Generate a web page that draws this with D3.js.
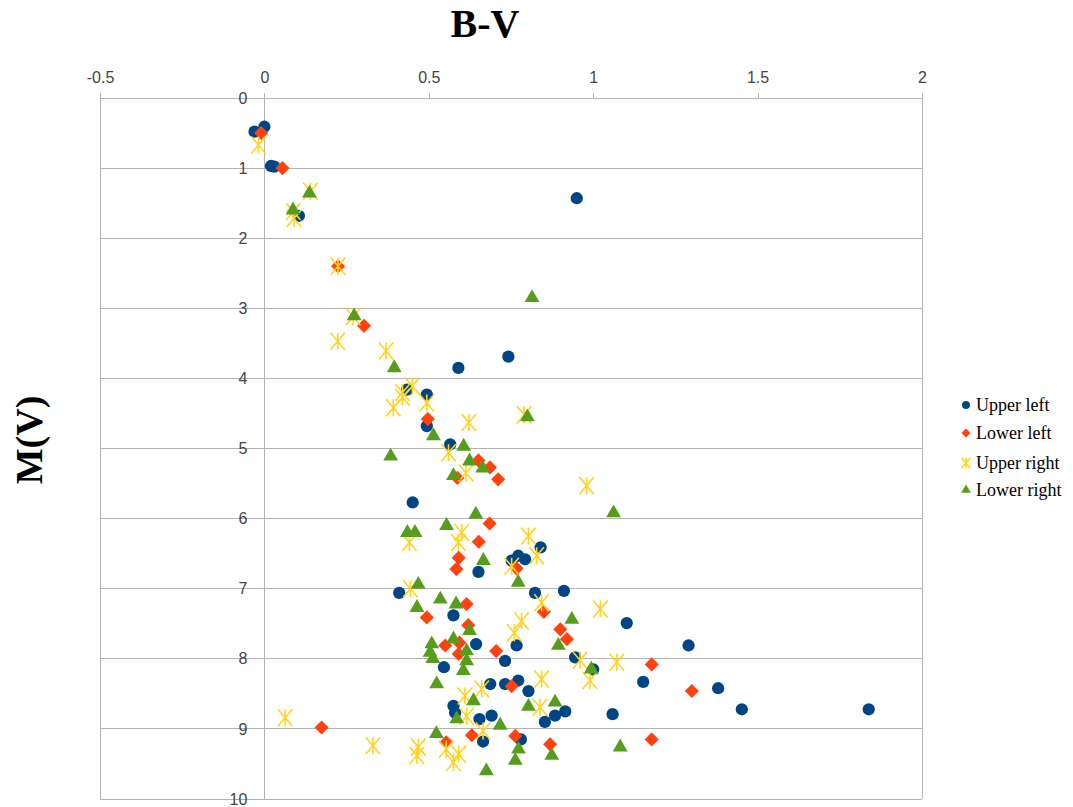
<!DOCTYPE html>
<meta charset="utf-8">
<style>
    body {
        margin: 0;
        background: #fff;
    }

    .axis path,
    .axis line {
        fill: none;
        stroke: #b3b3b3;
        shape-rendering: crispEdges;
    }

    .axis text {
        fill: #444;
        font: 16px "Liberation Sans", Arial, sans-serif;
    }

    .grid line {
        stroke: #b3b3b3;
        shape-rendering: crispEdges;
    }
</style>

<body>
    <script src="https://d3js.org/d3.v7.min.js"></script>
    <script>

        // [B-V, M(V)]
        var upperLeft = [
            [-0.03, 0.48], [0.0, 0.41], [0.02, 0.97], [0.03, 0.98], [0.105, 1.68], [0.95, 1.43],
            [0.59, 3.85], [0.742, 3.69], [0.434, 4.16], [0.494, 4.23], [0.494, 4.68], [0.565, 4.94],
            [0.451, 5.77], [0.84, 6.41], [0.752, 6.6], [0.772, 6.53], [0.793, 6.58], [0.651, 6.76],
            [0.41, 7.06], [0.823, 7.06], [0.911, 7.03], [0.575, 7.38], [1.102, 7.49], [0.767, 7.81],
            [0.644, 7.79], [1.29, 7.81], [0.945, 7.98], [0.546, 8.12], [0.732, 8.03], [1.0, 8.15],
            [0.687, 8.36], [0.732, 8.36], [0.772, 8.31], [0.803, 8.46], [1.152, 8.33], [1.38, 8.42],
            [0.575, 8.67], [0.58, 8.77], [0.654, 8.86], [0.691, 8.81], [0.853, 8.9], [0.884, 8.81],
            [0.915, 8.75], [1.059, 8.79], [1.452, 8.72], [1.838, 8.72], [0.665, 9.18], [0.78, 9.15]
        ];

        var lowerLeft = [
            [-0.01, 0.5], [0.055, 1.0], [0.224, 2.4], [0.303, 3.25], [0.497, 4.58], [0.651, 5.17],
            [0.686, 5.27], [0.587, 5.42], [0.711, 5.44], [0.685, 6.07], [0.652, 6.33], [0.591, 6.56],
            [0.584, 6.72], [0.767, 6.71], [0.494, 7.41], [0.615, 7.22], [0.85, 7.33], [0.9, 7.58],
            [0.92, 7.72], [0.62, 7.52], [0.55, 7.81], [0.593, 7.77], [0.591, 7.93], [0.705, 7.89],
            [1.178, 8.08], [0.752, 8.39], [1.3, 8.46], [0.174, 8.98], [0.631, 9.09], [0.763, 9.1],
            [0.869, 9.22], [0.553, 9.19], [1.178, 9.15]
        ];

        var upperRight = [
            [-0.018, 0.67], [0.14, 1.33], [0.088, 1.62], [0.09, 1.72], [0.224, 2.4], [0.27, 3.12],
            [0.223, 3.47], [0.37, 3.61], [0.42, 4.2], [0.45, 4.11], [0.494, 4.35], [0.392, 4.42],
            [0.42, 4.27], [0.622, 4.63], [0.79, 4.52], [0.56, 5.06], [0.613, 5.35], [0.98, 5.53],
            [0.441, 6.34], [0.6, 6.2], [0.59, 6.34], [0.803, 6.25], [0.828, 6.53], [0.752, 6.68],
            [0.444, 7.0], [0.843, 7.2], [1.022, 7.29], [0.782, 7.46], [0.76, 7.63], [0.96, 8.02],
            [1.072, 8.05], [0.99, 8.31], [0.843, 8.29], [0.661, 8.43], [0.61, 8.53], [0.838, 8.69],
            [0.615, 8.82], [0.063, 8.84], [0.665, 9.03], [0.33, 9.24], [0.468, 9.26], [0.464, 9.38],
            [0.553, 9.29], [0.591, 9.36], [0.575, 9.48]
        ];

        var lowerRight = [
            [0.137, 1.36], [0.087, 1.6], [0.814, 2.85], [0.273, 3.11], [0.395, 3.85], [0.8, 4.55],
            [0.514, 4.82], [0.384, 5.11], [0.606, 4.97], [0.624, 5.18], [0.664, 5.28], [0.575, 5.39],
            [1.062, 5.92], [0.643, 5.94], [0.554, 6.1], [0.435, 6.2], [0.458, 6.2], [0.666, 6.6],
            [0.772, 6.91], [0.468, 6.94], [0.535, 7.15], [0.464, 7.27], [0.583, 7.22], [0.935, 7.44],
            [0.624, 7.6], [0.575, 7.72], [0.509, 7.79], [0.504, 7.91], [0.512, 8.0], [0.615, 7.89],
            [0.894, 7.81], [0.615, 8.03], [0.605, 8.17], [0.994, 8.15], [0.524, 8.36], [0.636, 8.6],
            [0.803, 8.68], [0.884, 8.62], [0.585, 8.86], [0.717, 8.95], [0.523, 9.07], [0.773, 9.29],
            [0.763, 9.45], [0.874, 9.38], [0.675, 9.6], [1.082, 9.26]
        ];

        var seriesNames = ["Upper left", "Lower left", "Upper right", "Lower right"];
        var seriesColors = ["#004586", "#ff420e", "#ffd320", "#579d1c"];
        var xTicks = [-0.5, 0, 0.5, 1, 1.5, 2];
        var yTicks = [0, 1, 2, 3, 4, 5, 6, 7, 8, 9, 10];

        var width = 1073, height = 807;

        var x = d3.scaleLinear().domain([-0.5, 2]).range([100, 922]);
        var y = d3.scaleLinear().domain([0, 10]).range([98, 799]);

        var svg = d3.select("body").append("svg")
            .attr("width", width)
            .attr("height", height);

        // horizontal grid
        svg.append("g")
            .attr("class", "grid")
            .selectAll("line")
            .data(yTicks)
            .enter().append("line")
            .attr("x1", x(-0.5))
            .attr("x2", x(2))
            .attr("y1", d => y(d))
            .attr("y2", d => y(d));

        // frame sides
        svg.append("g")
            .attr("class", "grid")
            .selectAll("line")
            .data([-0.5, 2])
            .enter().append("line")
            .attr("x1", d => x(d))
            .attr("x2", d => x(d))
            .attr("y1", y(0))
            .attr("y2", y(10));

        var xAxis = d3.axisTop(x)
            .tickValues(xTicks)
            .tickSize(5)
            .tickPadding(10)
            .tickFormat(d => String(d));

        svg.append("g")
            .attr("class", "x axis")
            .attr("transform", "translate(0," + y(0) + ")")
            .call(xAxis);

        var yAxis = d3.axisLeft(y)
            .tickValues(yTicks)
            .tickSize(0)
            .tickPadding(17)
            .tickFormat(d => String(d));

        svg.append("g")
            .attr("class", "y axis")
            .attr("transform", "translate(" + x(0) + ",0)")
            .call(yAxis);

        // asterisk used by LibreOffice for the third series
        var star = {
            draw: function (context, size) {
                var r = Math.sqrt(size) / 2;
                var w = r * 0.85;
                context.moveTo(0, -r);
                context.lineTo(0, r);
                context.moveTo(-w, -r);
                context.lineTo(w, r);
                context.moveTo(-w, r);
                context.lineTo(w, -r);
            }
        };

        var shapes = [
            { type: d3.symbolCircle, size: 118, rotate: 0, legendSize: 50 },
            { type: d3.symbolSquare, size: 100, rotate: 45, legendSize: 40 },
            { type: star, size: 290, rotate: 0, legendSize: 110 },
            { type: d3.symbolTriangle, size: 95, rotate: 0, legendSize: 40 }
        ];

        function markStyle(sel, i) {
            if (i === 2) {
                sel.attr("fill", "none")
                    .attr("stroke", seriesColors[i])
                    .attr("stroke-width", 1.6);
            } else {
                sel.attr("fill", seriesColors[i]);
            }
        }

        var allSeries = [upperLeft, lowerLeft, upperRight, lowerRight];

        allSeries.forEach(function (data, i) {
            var sym = d3.symbol().type(shapes[i].type).size(shapes[i].size);
            svg.append("g")
                .selectAll("path")
                .data(data)
                .enter().append("path")
                .attr("d", sym)
                .attr("transform", d => "translate(" + x(d[0]) + "," + y(d[1]) + ") rotate(" + shapes[i].rotate + ")")
                .call(markStyle, i);
        });

        // titles
        svg.append("text")
            .attr("x", 485)
            .attr("y", 37)
            .attr("text-anchor", "middle")
            .style("font", "bold 40px 'Liberation Serif', 'Times New Roman', serif")
            .text("B-V");

        svg.append("text")
            .attr("transform", "translate(42,440) rotate(-90)")
            .attr("text-anchor", "middle")
            .style("font", "bold 38px 'Liberation Serif', 'Times New Roman', serif")
            .text("M(V)");

        // legend
        var legend = svg.selectAll(".legend")
            .data(seriesNames)
            .enter().append("g")
            .attr("class", "legend")
            .attr("transform", (d, i) => "translate(966," + [405, 433, 463, 490][i] + ")");

        legend.append("path")
            .attr("d", (d, i) => d3.symbol().type(shapes[i].type).size(shapes[i].legendSize)())
            .attr("transform", (d, i) => "rotate(" + shapes[i].rotate + ")")
            .each(function (d, i) { d3.select(this).call(markStyle, i); });

        legend.append("text")
            .attr("x", 10)
            .attr("y", 6)
            .style("font", "18px 'Liberation Serif', 'Times New Roman', serif")
            .style("fill", "#000")
            .text(d => d);

    </script>
</body>
